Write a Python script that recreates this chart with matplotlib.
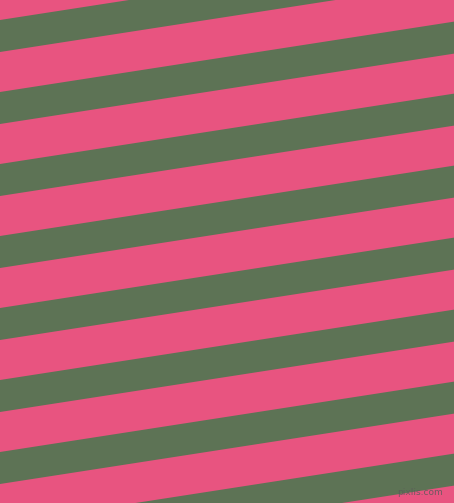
import numpy as np
import matplotlib.pyplot as plt

green_starts = [-52, 20, 92, 164, 236, 308, 380, 452, 524]
green_width = 32
slope = 0.155          # rise per pixel to the right
pink = '#e85480'
green = '#5d7355'

W, H = 454, 503

fig = plt.figure(figsize=(W / 100, H / 100), dpi=100)
ax = fig.add_axes([0, 0, 1, 1])
ax.set_facecolor(pink)
ax.set_xlim(0, W)
ax.set_ylim(H, 0)
ax.axis('off')
fig.patch.set_facecolor(pink)

x = np.array([0, W])
for y0 in green_starts:
    top = y0 - slope * x
    ax.fill_between(x, top, top + green_width, color=green, linewidth=0)

# small watermark in the bottom right corner
ax.text(443, 497, 'pixlis.com', ha='right', va='bottom',
        fontsize=6.5, color='#5a5a5a', alpha=0.85)

fig.savefig('out.png', dpi=100, facecolor=pink)
